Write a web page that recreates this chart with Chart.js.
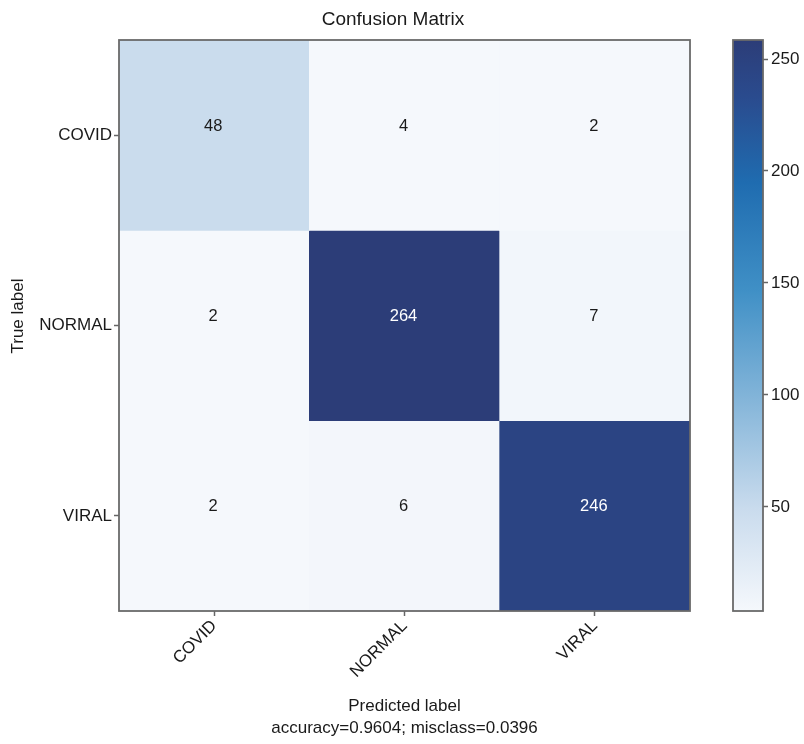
<!DOCTYPE html>
<html><head><meta charset="utf-8">
<script src="https://cdn.jsdelivr.net/npm/chart.js@4/dist/chart.umd.min.js"></script>
<style>
html,body{margin:0;padding:0;background:#fff;overflow:hidden}
#wrap{position:relative;width:804px;height:744px}
canvas{position:absolute;top:0}
</style></head><body>
<div id="wrap">
<canvas id="main" width="804" height="744" style="left:0"></canvas>
<canvas id="cbar" width="104" height="744" style="left:700px"></canvas>
</div>
<script>
// ---- data ----
const predictedLabels = ['COVID', 'NORMAL', 'VIRAL'];
const trueLabels = ['COVID', 'NORMAL', 'VIRAL'];
const rowCOVID = [48, 4, 2];
const rowNORMAL = [2, 264, 7];
const rowVIRAL = [2, 6, 246];
const matrix = [rowCOVID, rowNORMAL, rowVIRAL];
const colorbarTicks = [50, 100, 150, 200, 250];
const colorbarMin = 3.5;
const colorbarMax = 258.5;
const titleText = 'Confusion Matrix';
const xTitle = ['Predicted label', 'accuracy=0.9604; misclass=0.0396'];
const yTitle = '    True label';

// ---- colormap (Blues-like, as seen) ----
const cmapStops = [[0,'#f5f8fc'],[0.18,'#c9dbed'],[0.37,'#84b5d9'],[0.56,'#4090c6'],[0.75,'#1f6cb0'],[0.9,'#2a4b8e'],[1,'#2c3d78']];
function hex2rgb(h){return [parseInt(h.substr(1,2),16),parseInt(h.substr(3,2),16),parseInt(h.substr(5,2),16)];}
function cmap(f){
  f = Math.max(0, Math.min(1, f));
  for (let i = 1; i < cmapStops.length; i++) {
    if (f <= cmapStops[i][0]) {
      const [f0,c0] = cmapStops[i-1], [f1,c1] = cmapStops[i];
      const t = (f - f0) / (f1 - f0);
      const a = hex2rgb(c0), b = hex2rgb(c1);
      return 'rgb(' + a.map((v,k)=>Math.round(v + (b[k]-v)*t)).join(',') + ')';
    }
  }
  return cmapStops[cmapStops.length-1][1];
}
function colorFor(v){ return cmap((v - colorbarMin) / (colorbarMax - colorbarMin)); }
const maxVal = Math.max(...matrix.flat());

const FONT = "'Liberation Sans', Arial, Helvetica, sans-serif";
const TXT = '#1a1a1a';
const AXC = '#666666';

const framePlugin = {
  id: 'frame',
  afterDraw(chart, args, opts) {
    const {ctx, chartArea: a} = chart;
    ctx.save();
    ctx.strokeStyle = opts.color || AXC;
    ctx.lineWidth = opts.width || 1.6;
    ctx.strokeRect(a.left, a.top, a.right - a.left, a.bottom - a.top);
    ctx.restore();
  }
};

const cellTextPlugin = {
  id: 'cellText',
  afterDatasetsDraw(chart) {
    const {ctx} = chart;
    ctx.save();
    ctx.font = '16.5px ' + FONT;
    ctx.textAlign = 'center';
    ctx.textBaseline = 'middle';
    chart.data.datasets.forEach((ds, r) => {
      const meta = chart.getDatasetMeta(r);
      meta.data.forEach((el, c) => {
        const v = matrix[r][c];
        ctx.fillStyle = v > maxVal / 2 ? '#ffffff' : TXT;
        ctx.fillText(String(v), el.x - 1, (el.y + el.base) / 2 - 9);
      });
    });
    ctx.restore();
  }
};

const datasets = trueLabels.map((lab, r) => ({
  label: lab,
  data: predictedLabels.map(() => [r - 0.5, r + 0.5]),
  backgroundColor: matrix[r].map(colorFor),
  borderWidth: 0,
  borderSkipped: false,
  barPercentage: 1,
  categoryPercentage: 1,
  grouped: false
}));

new Chart(document.getElementById('main'), {
  type: 'bar',
  data: { labels: predictedLabels, datasets },
  plugins: [framePlugin, cellTextPlugin],
  options: {
    responsive: false,
    animation: false,
    layout: { padding: { top: 2, left: 0, right: 18, bottom: 0 } },
    plugins: {
      legend: { display: false },
      tooltip: { enabled: false },
      title: {
        display: true, text: titleText, color: TXT,
        font: { family: FONT, size: 19, weight: 'normal', lineHeight: 1.2 },
        padding: { top: 6, bottom: 9.2 }
      },
      frame: { color: '#6a6a6a', width: 1.8 }
    },
    scales: {
      x: {
        type: 'category',
        offset: true,
        grid: { display: true, offset: false, drawOnChartArea: false, tickLength: 5, color: AXC, tickColor: AXC, tickWidth: 1.5 },
        border: { display: false },
        ticks: { color: TXT, font: { family: FONT, size: 17 }, minRotation: 45, maxRotation: 45, padding: 0 },
        title: { display: true, text: xTitle, color: TXT, font: { family: FONT, size: 17, lineHeight: 1.3 }, padding: { bottom: 5, top: 0 } },
        afterFit(s) { s.height = 133; }
      },
      y: {
        type: 'linear',
        min: -0.5, max: 2.5, reverse: true,
        afterBuildTicks(s) { s.ticks = trueLabels.map((_, i) => ({ value: i })); },
        grid: { display: true, drawOnChartArea: false, tickLength: 5, color: AXC, tickColor: AXC, tickWidth: 1.5 },
        border: { display: false },
        ticks: { color: TXT, font: { family: FONT, size: 17 }, padding: 2, callback: (v) => trueLabels[v] },
        title: { display: true, text: yTitle, color: TXT, font: { family: FONT, size: 17 }, padding: { top: 8, bottom: 0 } },
        afterFit(s) { s.width = 119; }
      },
      ySpace: {
        type: 'linear', position: 'right', display: true,
        grid: { display: false }, border: { display: false },
        ticks: { display: false },
        afterFit(s) { s.width = 96; }
      }
    }
  }
});

// ---- colorbar ----
new Chart(document.getElementById('cbar'), {
  type: 'bar',
  data: {
    labels: [''],
    datasets: [{
      data: [[colorbarMin, colorbarMax]],
      borderWidth: 0,
      borderSkipped: false,
      barPercentage: 1,
      categoryPercentage: 1,
      backgroundColor(ctx) {
        const chart = ctx.chart;
        const a = chart.chartArea;
        if (!a) return '#ccc';
        const ys = chart.scales.y;
        const g = chart.ctx.createLinearGradient(0, a.bottom, 0, a.top);
        cmapStops.forEach(([f]) => {
          const v = colorbarMin + f * (colorbarMax - colorbarMin);
          const p = (a.bottom - ys.getPixelForValue(v)) / (a.bottom - a.top);
          g.addColorStop(Math.max(0, Math.min(1, p)), cmap(f));
        });
        return g;
      }
    }]
  },
  plugins: [framePlugin],
  options: {
    responsive: false,
    animation: false,
    layout: { padding: { top: 40, left: 33, right: 0, bottom: 133 } },
    plugins: {
      legend: { display: false },
      tooltip: { enabled: false },
      frame: { color: '#6a6a6a', width: 1.8 }
    },
    scales: {
      x: { display: false, offset: true },
      y: {
        type: 'linear', position: 'right',
        min: colorbarMin, max: colorbarMax,
        afterBuildTicks(s) { s.ticks = colorbarTicks.map(v => ({ value: v })); },
        grid: { display: true, drawOnChartArea: false, tickLength: 5, color: AXC, tickColor: AXC, tickWidth: 1.5 },
        border: { display: false },
        ticks: { color: TXT, font: { family: FONT, size: 17 }, padding: 3 },
        afterFit(s) { s.width = 41; }
      }
    }
  }
});
</script>
</body></html>
